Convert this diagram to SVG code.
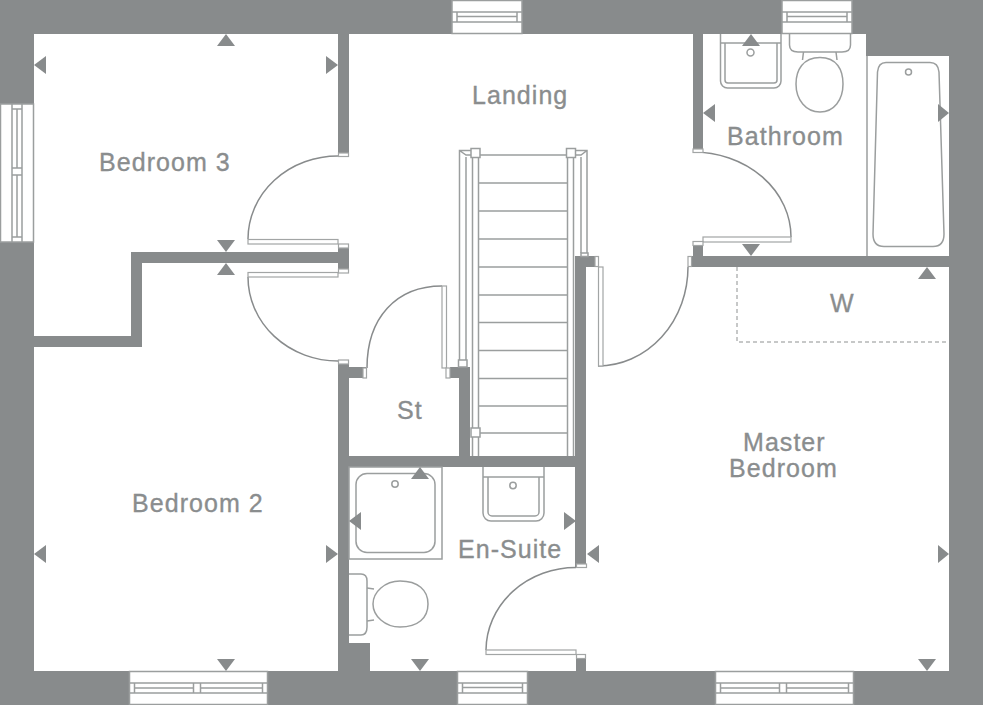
<svg xmlns="http://www.w3.org/2000/svg" width="983" height="705" viewBox="0 0 983 705">
<style>
.w{fill:#888b8c}
.j{fill:#fff;stroke:#a2a5a5;stroke-width:1.2}
.l{fill:none;stroke:#888b8c;stroke-width:1.5}
.f{fill:#fff;stroke:#9b9e9e;stroke-width:1.5}
.s{stroke:#9b9e9e;stroke-width:1.5;fill:none}
.a{fill:#888b8c}
text{font-family:"Liberation Sans",Arial,sans-serif;font-size:25px;fill:#8a8d8e;stroke:#8a8d8e;stroke-width:.35px;letter-spacing:1.05px}
</style>
<defs>
<g id="win70">
<rect class="f" x="0" y="0.5" width="70" height="33"/>
<path class="s" d="M0 12H70M0 22H70M5 12V22M65 12V22"/>
<path class="s" d="M5 16.500H65"/>
</g>
<g id="win138">
<rect class="f" x="0" y="0.5" width="138" height="33"/>
<path class="s" d="M0 12H138M0 22H138"/>
<path class="s" d="M5 12V22M133 12V22M64 12V22M71 12V22M5 17H64M71 17H133"/>
</g>
</defs>
<rect width="983" height="705" fill="#fff"/>
<g id="walls" class="w">
<rect x="0" y="0" width="983" height="34"/>
<rect x="0" y="0" width="34" height="705"/>
<rect x="949" y="0" width="34" height="705"/>
<rect x="0" y="671" width="983" height="34"/>
<rect x="866" y="34" width="83" height="22"/>
<rect x="338" y="34" width="11" height="122"/>
<rect x="131" y="252" width="218" height="11"/>
<rect x="338" y="245" width="11" height="26"/>
<rect x="131" y="252" width="11" height="95"/>
<rect x="34" y="336" width="108" height="11"/>
<rect x="338" y="360" width="11" height="311"/>
<rect x="349" y="367" width="17" height="11"/>
<rect x="450" y="367" width="20" height="11"/>
<rect x="459" y="367" width="11" height="90"/>
<rect x="349" y="456" width="237" height="11"/>
<rect x="575" y="256" width="11" height="312"/>
<rect x="575" y="256" width="20" height="11"/>
<rect x="576" y="655" width="10" height="16"/>
<rect x="349" y="643" width="21" height="28"/>
<rect x="693" y="34" width="10" height="118"/>
<rect x="693" y="242" width="10" height="25"/>
<rect x="691" y="256" width="258" height="11"/>
</g>
<g id="door-bedroom-3">
<path class="l" d="M338 156A90 83 0 0 0 248 239"/>
<rect class="j" x="248" y="239.500" width="90" height="4.500"/>
<rect class="j" x="338.500" y="153" width="10" height="3.500"/>
<rect class="j" x="338.500" y="244" width="10" height="4"/>
</g>
<g id="door-bedroom-2">
<path class="l" d="M248 277A90 84 0 0 0 338 361"/>
<rect class="j" x="248" y="272.500" width="90" height="4.500"/>
<rect class="j" x="338.500" y="269" width="10" height="4"/>
<rect class="j" x="338.500" y="360" width="10" height="4"/>
</g>
<g id="door-store">
<path class="l" d="M367 368C367 318 396 286 442 286"/>
<rect class="j" x="442" y="286" width="4.500" height="82"/>
<rect class="j" x="446" y="368" width="4" height="10"/>
<rect class="j" x="363" y="368" width="3.500" height="10"/>
</g>
<g id="door-master">
<path class="l" d="M598 366A90 99 0 0 0 688 267"/>
<rect class="j" x="598.500" y="267" width="4.500" height="99"/>
<rect class="j" x="595" y="256.500" width="3.500" height="10"/>
<rect class="j" x="688" y="256.500" width="3.500" height="10"/>
</g>
<g id="door-bathroom">
<path class="l" d="M693 152A98 85 0 0 1 791 237"/>
<rect class="j" x="703" y="237" width="88" height="5"/>
<rect class="j" x="693" y="149" width="10" height="3.500"/>
<rect class="j" x="693" y="241.500" width="10" height="4"/>
</g>
<g id="door-en-suite">
<path class="l" d="M576 567.500A90 83 0 0 0 486 650"/>
<rect class="j" x="486" y="650" width="90" height="4.500"/>
<rect class="j" x="576.500" y="564" width="10" height="3.500"/>
<rect class="j" x="576.500" y="654.500" width="9" height="4"/>
</g>
<g id="stairs">
<path class="s" d="M459.500 360V150.500H471M466 360V157M472.500 157V456M478.500 157V456M567.500 157V456M573.500 157V456M581 253V157M587 253V150.500H575M480 155H566M459.500 150.500L466 155H471M587 150.500L581 155H575"/>
<path class="s" d="M479 183H567M479 211H567M479 239H567M479 267H567M479 295H567M479 322.500H567M479 350.500H567M479 378.500H567M479 406H567M479 433H567"/>
<rect class="f" x="471" y="148.500" width="9" height="9"/>
<rect class="f" x="566.500" y="148.500" width="9" height="9"/>
<rect class="f" x="458.500" y="360" width="8.500" height="7"/>
<rect class="f" x="471" y="428" width="9" height="9"/>
<rect class="f" x="581" y="253" width="7" height="3.500"/>
</g>
<g id="bathroom-fittings">
<path class="f" d="M720.500 34V81A7 7 0 0 0 727.500 88H774A7 7 0 0 0 781 81V34"/>
<path class="s" d="M720.500 43H781M725 43V80A3 3 0 0 0 728 83H774A3 3 0 0 0 777 80V43"/>
<circle class="s" cx="750.500" cy="52.500" r="3.500"/>
<path class="f" d="M789.500 34V45C789.500 50 793 52 798 52H842C847 52 850.500 50 850.500 45V34"/>
<path class="s" d="M803.500 52L802.500 60M836 52L837 60"/>
<path class="f" d="M820 57.500C837 57.500 843 70 843 84C843 100 834 112 820 112C806 112 796 100 796 84C796 70 803 57.500 820 57.500Z"/>
<path class="s" d="M867 56V256"/>
<path class="s" d="M886 62.500H930C935 62.500 938.500 66 939 72L944 234C944 242 940 246.500 933 246.500H884C877 246.500 873 242 873 234L877.500 72C878 66 881 62.500 886 62.500Z"/>
<circle class="s" cx="908.500" cy="72" r="3"/>
<path d="M737 267V342H949" fill="none" stroke="#8e9191" stroke-width="1" stroke-dasharray="4 3"/>
</g>
<g id="en-suite-fittings">
<rect class="s" x="349" y="467" width="93" height="92"/>
<rect class="s" x="356" y="473.500" width="79" height="79" rx="11"/>
<circle class="s" cx="395" cy="484" r="3.200"/>
<path class="f" d="M483 467V513A8 8 0 0 0 491 521H536A8 8 0 0 0 544 513V467"/>
<path class="s" d="M483 477H544M488 477V512A4 4 0 0 0 492 516H535A4 4 0 0 0 539 512V477"/>
<circle class="s" cx="513" cy="485.500" r="3.200"/>
<path class="f" d="M349 574H361C365 574 367 577 367 581V627C367 632 365 635 361 635H349"/>
<path class="s" d="M367 588L374 589M367 621L374 620"/>
<path class="f" d="M373 604C373 592 385 581 400 581C418 581 428 590 428 604C428 618 418 627 400 627C385 627 373 616 373 604Z"/>
</g>
<g id="windows">
<use href="#win70" x="452" y="0"/>
<use href="#win70" x="782" y="0"/>
<use href="#win70" x="457.500" y="671"/>
<use href="#win138" x="129.500" y="671"/>
<use href="#win138" x="715.500" y="671"/>
<use href="#win138" transform="translate(34 104) rotate(90)"/>
</g>
<g id="dimension-arrows" class="a">
<path d="M226 34L217 46H235Z"/>
<path d="M34 65L46 56V74Z"/>
<path d="M338 65L326 56V74Z"/>
<path d="M226 252L217 240H235Z"/>
<path d="M226 263L217 275H235Z"/>
<path d="M34 554L46 545V563Z"/>
<path d="M338 554L326 545V563Z"/>
<path d="M226 671L217 659H235Z"/>
<path d="M751 34L742 46H760Z"/>
<path d="M703 113L715 104V122Z"/>
<path d="M949 113L938 104V122Z"/>
<path d="M751 256L742 244H760Z"/>
<path d="M927 267L918 279H936Z"/>
<path d="M587 554L599 545V563Z"/>
<path d="M949 554L938 545V563Z"/>
<path d="M927 671L918 659H936Z"/>
<path d="M420 467L411 479H429Z"/>
<path d="M349 521L361 512V530Z"/>
<path d="M576 521L564 512V530Z"/>
<path d="M420 671L411 659H429Z"/>
</g>
<g id="labels">
<text x="99" y="171">Bedroom 3</text>
<text x="472" y="104">Landing</text>
<text x="727" y="145">Bathroom</text>
<text x="830" y="312">W</text>
<text x="397" y="419">St</text>
<text x="743" y="451">Master</text>
<text x="729" y="477">Bedroom</text>
<text x="132" y="512">Bedroom 2</text>
<text x="458" y="558">En-Suite</text>
</g>
</svg>
